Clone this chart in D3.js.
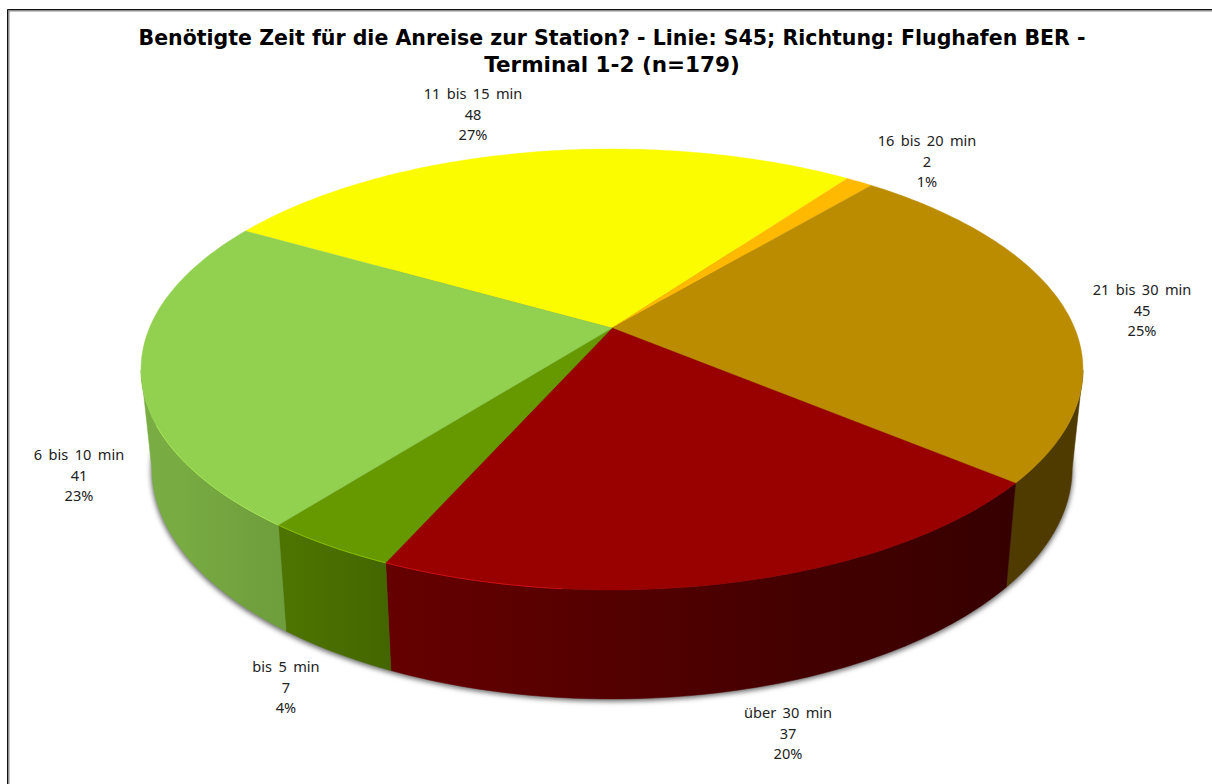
<!DOCTYPE html>
<html><head><meta charset="utf-8">
<script src="https://cdn.jsdelivr.net/npm/d3@7/dist/d3.min.js"></script>
<style>html,body{margin:0;padding:0;background:#fff;overflow:hidden}svg{display:block}</style>
</head><body><svg id="c" width="1212" height="784"></svg>
<script>
const titleLines = ["Benötigte Zeit für die Anreise zur Station? - Linie: S45; Richtung: Flughafen BER -", "Terminal 1-2 (n=179)"];
const categories = ["11 bis 15 min", "16 bis 20 min", "21 bis 30 min", "über 30 min", "bis 5 min", "6 bis 10 min"];
const values = [48, 2, 45, 37, 7, 41];
const percentLabels = ["27%", "1%", "25%", "20%", "4%", "23%"];
const colors = ["#fcfc00", "#ffb900", "#bc8c00", "#990000", "#669900", "#92d050"];

const svg = d3.select("#c");
const deg = Math.PI / 180;

// perspective projection of the pie disc
const cx = 612, cy = 328, Rx = 462.6, Ry = 212.7, k = 0.188;
function topPt(a) {           // a: clockwise from 12 o'clock
  const c = Math.sin(a), s = -Math.cos(a), w = 1 - k * s;
  return [cx + Rx * c / w, cy + Ry * s / w];
}
function bottomPt(a) {
  const [x, y] = topPt(a);
  return [cx + (x - cx) * 0.977, cy + (y - cy) * 1.047 + 96.7];
}
const pie = d3.pie().sort(null).value(d => d)
  .startAngle(-60.1 * deg).endAngle(299.9 * deg);
const arcs = pie(values);
const line = d3.line();

function sweep(a0, a1, stepDeg = 1) {
  const n = Math.max(1, Math.ceil((a1 - a0) / (stepDeg * deg)));
  return d3.range(n + 1).map(i => a0 + (a1 - a0) * i / n);
}

const defs = svg.append("defs");
defs.append("filter").attr("id", "blur").attr("x", "-5%").attr("y", "-5%").attr("width", "110%").attr("height", "110%")
  .append("feGaussianBlur").attr("stdDeviation", 2.6);

// soft shadow under the disc
svg.append("path")
  .attr("d", line(d3.range(0, 360, 2).map(t => bottomPt(t * deg)).map(([x, y]) => [cx + (x - cx) * 1.002, y + 2.5])) + "Z")
  .attr("fill", "#6e6e6e")
  .attr("filter", "url(#blur)");

// side wall: visible between the two silhouette angles, shaded by angle
const wallFrom = 101 * deg, wallTo = 259 * deg;
const shade = d3.scaleLinear()
  .domain([129.9, 160, 204, 215, 235, 260])
  .range([.35, .44, .67, .75, .82, .84]).clamp(true);
const brownShade = .42;

const walls = arcs.map((d, i) => ({ i, a0: Math.max(d.startAngle, wallFrom), a1: Math.min(d.endAngle, wallTo) }))
  .filter(w => w.a1 > w.a0);

const grads = defs.selectAll("linearGradient").data(walls).join("linearGradient")
  .attr("id", w => "wall" + w.i)
  .attr("gradientUnits", "userSpaceOnUse")
  .attr("x1", w => topPt(w.a0)[0]).attr("x2", w => topPt(w.a1)[0])
  .attr("y1", 0).attr("y2", 0);
grads.each(function (w) {
  const c = d3.rgb(colors[w.i]);
  const x0 = topPt(w.a0)[0], x1 = topPt(w.a1)[0];
  d3.select(this).selectAll("stop").data(sweep(w.a0, w.a1, 5)).join("stop")
    .attr("offset", a => (topPt(a)[0] - x0) / (x1 - x0))
    .attr("stop-color", a => {
      const m = w.i === 2 ? brownShade : shade(a / deg);
      return d3.rgb(c.r * m, c.g * m, c.b * m).formatHex();
    });
});
svg.append("g").selectAll("path").data(walls).join("path")
  .attr("d", w => {
    const as = sweep(w.a0, w.a1);
    return line([...as.map(topPt), ...as.slice().reverse().map(bottomPt)]) + "Z";
  })
  .attr("fill", w => `url(#wall${w.i})`)
  .attr("stroke", w => `url(#wall${w.i})`)
  .attr("stroke-width", 0.5);

// top face
svg.append("g").selectAll("path")
  .data(arcs)
  .join("path")
  .attr("d", d => line([[cx, cy], ...sweep(d.startAngle, d.endAngle).map(topPt)]) + "Z")
  .attr("fill", (d, i) => colors[i])
  .attr("stroke", (d, i) => colors[i])
  .attr("stroke-width", 0.4);

// bright edge on the lit front rim
const rimLight = [null, null, null, "#cc1010", "#88c000", "#a8e858"];
svg.append("g").selectAll("path")
  .data(arcs.map((d, i) => ({ i, a0: Math.max(d.startAngle, 185 * deg), a1: Math.min(d.endAngle, 245 * deg) })).filter(r => r.a1 > r.a0 && rimLight[r.i]))
  .join("path")
  .attr("d", r => line(sweep(r.a0, r.a1).map(topPt)))
  .attr("fill", "none")
  .attr("stroke", r => rimLight[r.i])
  .attr("stroke-width", 1);

// frame
svg.append("path").attr("d", "M8.5,784V10.5H1212").attr("fill", "none").attr("stroke", "#8c8c8c").attr("stroke-width", 2);
svg.append("path").attr("d", "M7.5,784V9.5H1212").attr("fill", "none").attr("stroke", "#111").attr("stroke-width", 1);

// title
svg.append("g").selectAll("text")
  .data(titleLines)
  .join("text")
  .attr("x", 612)
  .attr("y", (d, i) => 45 + i * 27)
  .attr("text-anchor", "middle")
  .attr("font-family", "'DejaVu Sans', sans-serif")
  .attr("font-weight", "bold")
  .attr("font-size", 21.5)
  .attr("fill", "#000")
  .attr("textLength", (d, i) => i === 0 ? 947 : null)
  .attr("lengthAdjust", "spacingAndGlyphs")
  .text(d => d);

// data labels
const labelPos = [[473, 99], [927, 146], [1142, 295], [788, 718], [286, 672], [79, 460]];
const lbl = svg.append("g").selectAll("text")
  .data(categories)
  .join("text")
  .attr("text-anchor", "middle")
  .attr("font-family", "'Noto Sans', sans-serif")
  .attr("font-size", 14.6)
  .attr("word-spacing", 2.6)
  .attr("fill", "#222");
lbl.each(function (c, i) {
  [c, String(values[i]), percentLabels[i]].forEach((t, j) => {
    d3.select(this).append("tspan")
      .attr("x", labelPos[i][0])
      .attr("y", labelPos[i][1] + j * 20.5)
      .text(t);
  });
});
</script></body></html>
